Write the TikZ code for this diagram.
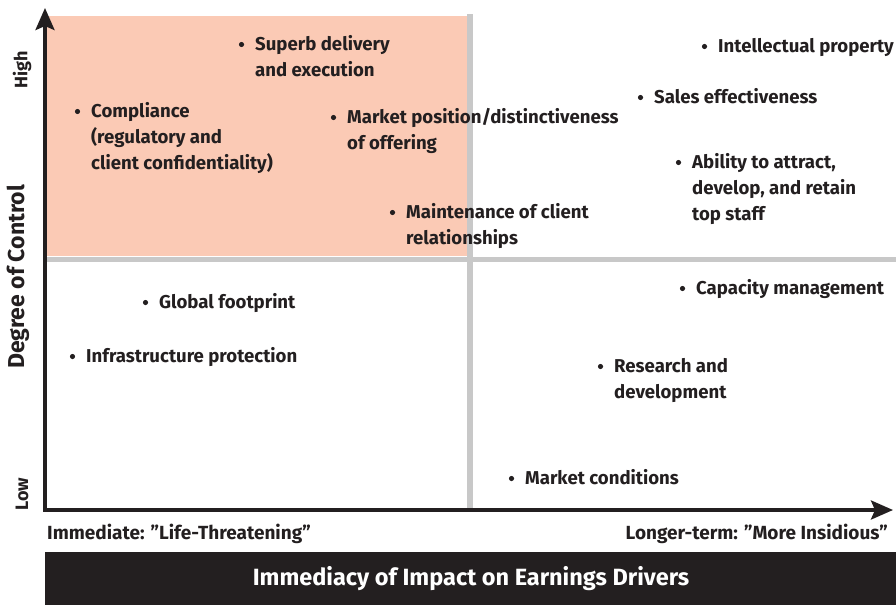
\documentclass[tikz,border=0pt]{standalone}
\usepackage{fontspec}
\setmainfont{Fira Sans}
\usetikzlibrary{arrows.meta}
\definecolor{peach}{HTML}{FBCAB5}
\definecolor{divider}{HTML}{C8C8C8}
\definecolor{ink}{HTML}{231F20}
% lines of one item, the first line carrying the baseline
\newcommand\lines[1]{\begin{tabular}[t]{@{}l@{}}#1\end{tabular}}
\begin{document}
\begin{tikzpicture}[x=1pt,y=-1pt,
  item/.style={anchor=base west,inner sep=0pt,text=ink,
    font=\fontsize{18.6}{26}\selectfont\bfseries},
  dot/.style={fill=ink},
  axis/.style={line width=3.5pt,draw=ink,-{Stealth[length=22pt,width=19pt,inset=4pt]}},
  endlabel/.style={inner sep=0pt,text=ink,font=\fontsize{19}{22}\selectfont\bfseries},
  sidelabel/.style={inner sep=0pt,text=ink,rotate=90,font=\fontsize{18}{22}\selectfont\bfseries}]
\path[use as bounding box] (0,0) rectangle (896,605);

% quadrant shading and dividers
\fill[peach] (47,16) rectangle (467,256);
\draw[divider,line width=6pt] (470,14) -- (470,508);
\draw[divider,line width=5pt] (47,259) -- (896,259);

% axes
\coordinate (origin) at (45,510);
\coordinate (ytip) at (45,8);
\coordinate (xtip) at (893,510);
\draw[axis] ([yshift=-1.75pt]origin) -- (ytip);
\draw[axis] ([xshift=-1.75pt]origin) -- (xtip);

% items
\node[item] (superb) at (255,50) {\lines{Superb delivery\\and execution}};
\node[item] (compl) at (91,117) {\lines{Compliance\\(regulatory and\\client confidentiality)}};
\node[item] (mpos) at (347,123) {\lines{Market position/distinctiveness\\of offering}};
\node[item] (maint) at (406,218) {\lines{Maintenance of client\\relationships}};
\node[item] (ip) at (718,52) {Intellectual property};
\node[item] (sales) at (654,103) {Sales effectiveness};
\node[item] (ability) at (692,168) {\lines{Ability to attract,\\develop, and retain\\top staff}};
\node[item] (global) at (159,308) {Global footprint};
\node[item] (infra) at (86,362) {Infrastructure protection};
\node[item] (capac) at (696,294) {Capacity management};
\node[item] (rnd) at (614,372) {\lines{Research and\\development}};
\node[item] (mcond) at (525,484) {Market conditions};
\foreach \n in {superb,compl,mpos,maint,ip,sales,ability,global,infra,capac,rnd,mcond}
  \fill[dot] ([xshift=-13.5pt,yshift=5.5pt]\n.base west) circle (2.6pt);

% axis end labels
\node[endlabel,anchor=base west] (near) at (47,539) {Immediate: "Life-Threatening"};
\node[endlabel,anchor=base east] (far) at (888,539) {Longer-term: "More Insidious"};
\node[sidelabel] (high) at (22,70) {High};
\node[sidelabel] (low) at (22,494) {Low};
\node[sidelabel,font=\fontsize{23}{26}\selectfont\bfseries] (ytitle) at (18,277) {Degree of Control};

% x-axis title bar
\fill[ink] (45,552) rectangle (896,605);
\node[inner sep=0pt,text=white,font=\fontsize{23.5}{26}\selectfont\bfseries] (xtitle) at (471,579) {Immediacy of Impact on Earnings Drivers};
\end{tikzpicture}
\end{document}
